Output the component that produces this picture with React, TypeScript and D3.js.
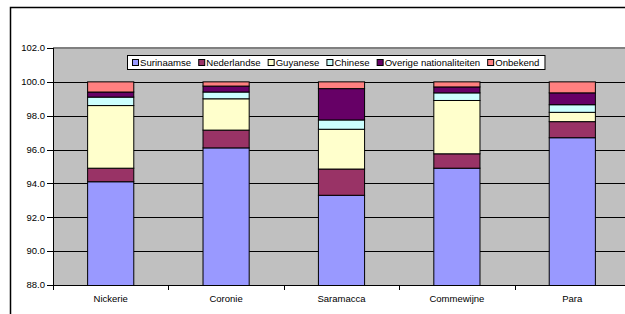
import React from "react";
import * as d3 from "d3";

// districts and nationality shares (%)
const districts = ["Nickerie", "Coronie", "Saramacca", "Commewijne", "Para"];
const seriesNames = ["Surinaamse", "Nederlandse", "Guyanese", "Chinese", "Overige nationaliteiten", "Onbekend"];
const surinaamse = [94.1, 96.1, 93.3, 94.9, 96.7];
const nederlandse = [0.8, 1.05, 1.55, 0.85, 0.95];
const guyanese = [3.7, 1.85, 2.35, 3.15, 0.55];
const chinese = [0.5, 0.4, 0.55, 0.45, 0.45];
const overige = [0.3, 0.35, 1.85, 0.35, 0.7];
const onbekend = [0.6, 0.25, 0.4, 0.3, 0.65];
const yTicks = [88, 90, 92, 94, 96, 98, 100, 102];

const colors = ["#9999FF", "#993366", "#FFFFCC", "#CCFFFF", "#660066", "#FF8080"];
const FONT = "Arial, 'Liberation Sans', sans-serif";

const W = 625;
const H = 314;
const plot = { left: 53, top: 48, right: 630, bottom: 285 };

function measure(text: string): number {
  const c = document.createElement("canvas").getContext("2d");
  if (!c) return text.length * 5.5;
  c.font = "10px Arial, 'Liberation Sans'";
  return c.measureText(text).width;
}

export default function App() {
  const values = [surinaamse, nederlandse, guyanese, chinese, overige, onbekend];
  const rows = districts.map((d, i) => {
    const r: any = { district: d };
    seriesNames.forEach((s, k) => (r[s] = values[k][i]));
    return r;
  });
  const stacked = d3.stack().keys(seriesNames)(rows);

  const x = d3.scaleBand().domain(districts).range([plot.left, plot.right]).paddingInner(0).paddingOuter(0);
  const y = d3.scaleLinear().domain([88, 102]).range([plot.bottom, plot.top]);
  const barW = x.bandwidth() / 2.5;

  // legend layout
  const legendItems: { name: string; x: number }[] = [];
  let lx = 132;
  seriesNames.forEach((s) => {
    legendItems.push({ name: s, x: lx });
    lx += 8 + measure(s) * 0.96 + 7;
  });
  const legendLeft = 127;
  const legendRight = lx - 2;

  return (
    <svg width={W} height={H} style={{ position: "absolute", left: 0, top: 0, background: "#fff" }} fontFamily={FONT}>
      <defs>
        <clipPath id="plotClip">
          <rect x={plot.left} y={plot.top} width={plot.right - plot.left} height={plot.bottom - plot.top + 1} />
        </clipPath>
      </defs>
      {/* outer chart area border */}
      <rect x={10.5} y={7.5} width={W + 20} height={H + 20} fill="#fff" stroke="#000" strokeWidth={1.5} />

      {/* plot area */}
      <rect x={plot.left} y={plot.top} width={plot.right - plot.left} height={plot.bottom - plot.top} fill="#C0C0C0" />
      <line x1={plot.left} x2={plot.right} y1={plot.top} y2={plot.top} stroke="#808080" strokeWidth={2} />

      {/* gridlines */}
      {yTicks.slice(1, -1).map((t) => (
        <line key={t} x1={plot.left} x2={plot.right} y1={Math.round(y(t)) + 0.5} y2={Math.round(y(t)) + 0.5} stroke="#000" strokeWidth={1} />
      ))}

      {/* bars */}
      <g clipPath="url(#plotClip)">
        {stacked.map((layer, k) => (
          <g key={layer.key} fill={colors[k]} stroke="#000" strokeWidth={1}>
            {layer.map((seg, i) => {
              const cx = (x(districts[i]) as number) + x.bandwidth() / 2;
              const y0 = Math.min(y(seg[0]), plot.bottom + 2);
              const y1 = y(seg[1]);
              return <rect key={i} x={cx - barW / 2} y={y1} width={barW} height={y0 - y1} />;
            })}
          </g>
        ))}
      </g>

      {/* y axis */}
      <line x1={plot.left + 0.5} x2={plot.left + 0.5} y1={plot.top} y2={plot.bottom} stroke="#000" />
      {yTicks.map((t) => (
        <g key={t}>
          <line x1={plot.left - 6} x2={plot.left} y1={Math.round(y(t)) + 0.5} y2={Math.round(y(t)) + 0.5} stroke="#000" />
          <text x={plot.left - 8} y={y(t)} dy="0.35em" textAnchor="end" fontSize={9.5} fill="#000">
            {t.toFixed(1)}
          </text>
        </g>
      ))}

      {/* x axis */}
      <line x1={plot.left} x2={plot.right} y1={plot.bottom + 0.5} y2={plot.bottom + 0.5} stroke="#000" />
      {districts.map((d) => {
        const x0 = x(d) as number;
        return (
          <g key={d}>
            <line x1={Math.round(x0) + 0.5} x2={Math.round(x0) + 0.5} y1={plot.bottom} y2={plot.bottom + 5} stroke="#000" />
            <text x={x0 + x.bandwidth() / 2} y={plot.bottom + 14} dy="0.35em" textAnchor="middle" fontSize={9.5} fill="#000">
              {d}
            </text>
          </g>
        );
      })}

      {/* legend */}
      <rect x={legendLeft + 0.5} y={55.5} width={legendRight - legendLeft} height={14} fill="#fff" stroke="#000" />
      {legendItems.map((it, k) => (
        <g key={it.name}>
          <rect x={it.x + 0.5} y={59.5} width={6} height={6} fill={colors[k]} stroke="#000" />
          <text x={it.x + 8} y={63} dy="0.35em" fontSize={9.6} fill="#000">
            {it.name}
          </text>
        </g>
      ))}
    </svg>
  );
}
